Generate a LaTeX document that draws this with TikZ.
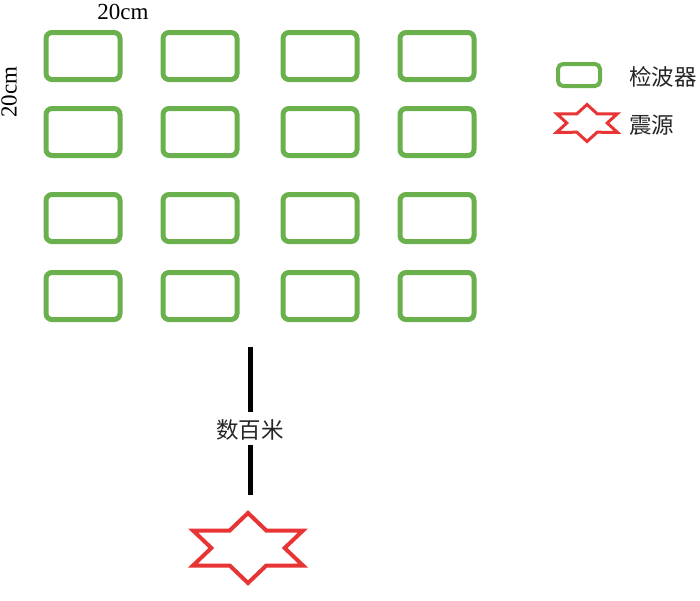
\documentclass[tikz,border=0pt]{standalone}
\usepackage{fontspec}
\setmainfont{Liberation Serif}
\newfontfamily\cjk{Noto Sans CJK SC}
\begin{document}
\begin{tikzpicture}[x=1pt,y=-1pt,
  geo/.style={draw=geogreen,line width=5pt,rounded corners=6pt,minimum width=74pt,minimum height=47pt,inner sep=0pt},
  geosmall/.style={draw=geogreen,line width=4pt,rounded corners=5pt,minimum width=42pt,minimum height=22pt,inner sep=0pt},
  src/.style={draw=srcred,line width=4pt,line join=miter},
  lbl/.style={font=\cjk\fontsize{22.5}{22.5}\selectfont,inner sep=0pt,text=black!85},
  dim/.style={font=\fontsize{23}{23}\selectfont,inner sep=0pt},
  bar/.style={line width=5pt,black}]
\definecolor{geogreen}{RGB}{106,176,76}
\definecolor{srcred}{RGB}{232,52,52}
\useasboundingbox (0,0) rectangle (700,600);
% detector grid
\foreach \r/\yy in {1/56,2/132,3/218,4/296}{
  \foreach \c/\xx in {1/83,2/200,3/320,4/437}{
    \node[geo] (b\r\c) at (\xx,\yy) {};
  }
}
% dimension labels
\node[dim] (dtop) at (123,12) {20cm};
\node[dim,rotate=90] (dleft) at (9,92) {20cm};
% distance bar
\coordinate (bartop) at (250,347);
\coordinate (barmid1) at (250,412);
\coordinate (barmid2) at (250,445);
\coordinate (barbot) at (250,495);
\draw[bar] (bartop) -- (barmid1);
\draw[bar] (barmid2) -- (barbot);
\node[lbl] (dist) at (250,430) {数百米};
% source star
\begin{scope}[shift={(248,548)},x=63.5pt,y=-35pt]
\draw[src] (90:1) -- (60:0.577) -- (30:1) -- (0:0.577) -- (-30:1) -- (-60:0.577)
  -- (-90:1) -- (-120:0.577) -- (-150:1) -- (180:0.577) -- (150:1) -- (120:0.577) -- cycle;
\end{scope}
% legend
\node[geosmall] (lgeo) at (579,75) {};
\node[lbl,anchor=west] (lgeotxt) at (629,77) {检波器};
\begin{scope}[shift={(587,123)},x=35pt,y=-18.5pt]
\draw[src,line width=3pt] (90:1) -- (60:0.577) -- (30:1) -- (0:0.577) -- (-30:1) -- (-60:0.577)
  -- (-90:1) -- (-120:0.577) -- (-150:1) -- (180:0.577) -- (150:1) -- (120:0.577) -- cycle;
\end{scope}
\node[lbl,anchor=west] (lsrctxt) at (629,125) {震源};
\end{tikzpicture}
\end{document}
